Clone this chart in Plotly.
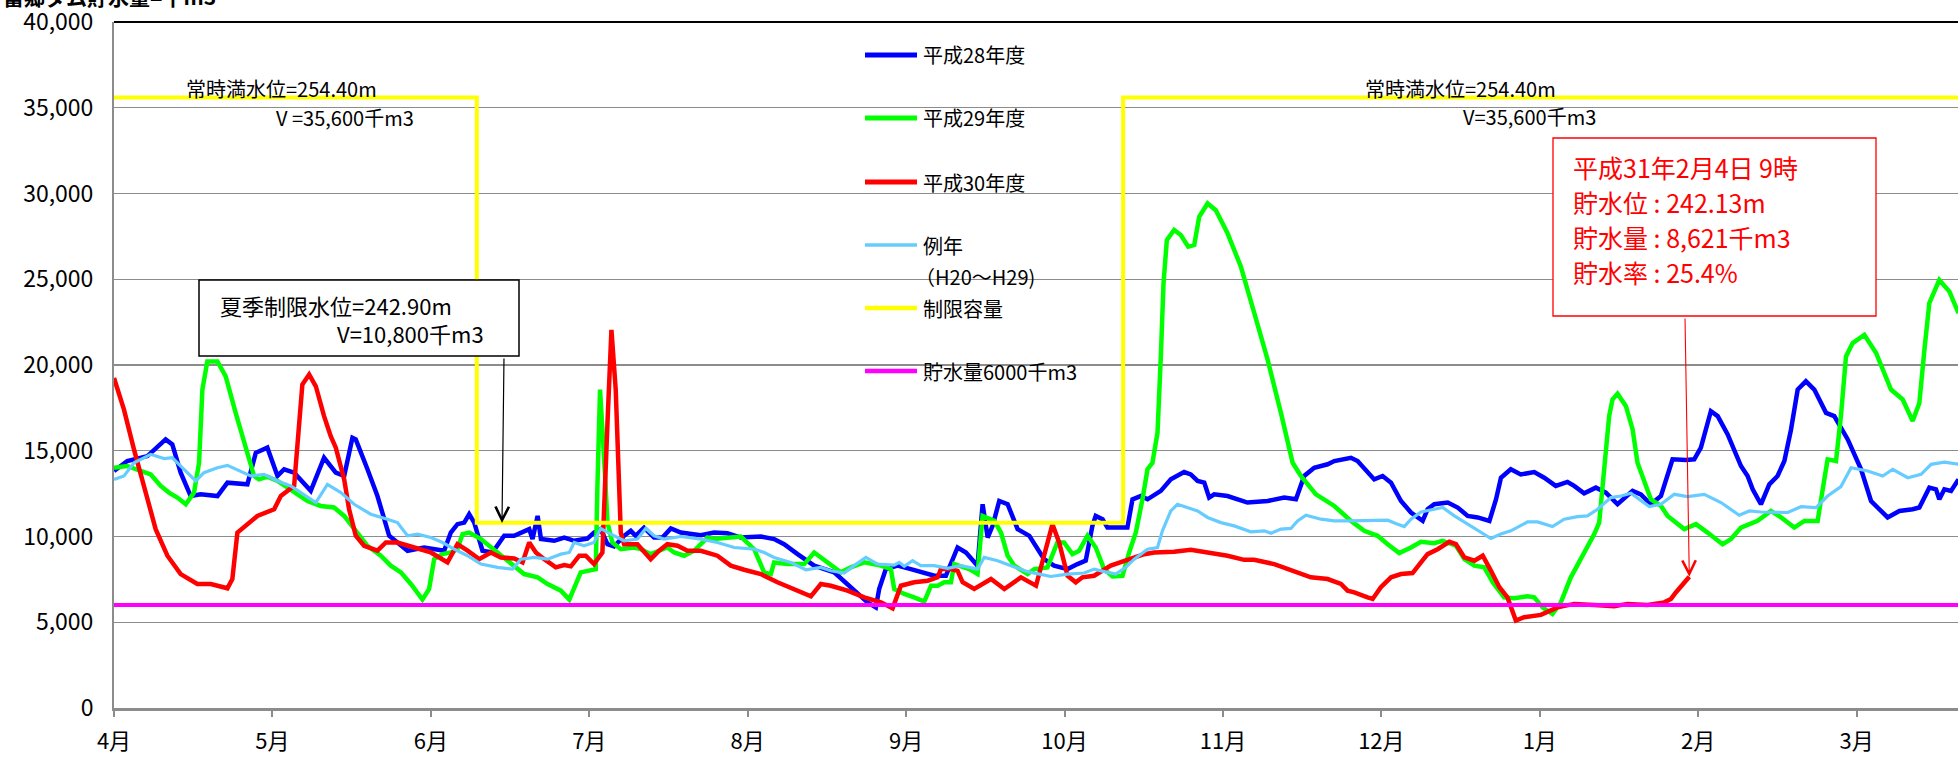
import plotly.graph_objects as go

# ---------------- data (x = months from 1 April, value = 千m3) ----------------
months = ["4月", "5月", "6月", "7月", "8月", "9月", "10月", "11月", "12月", "1月", "2月", "3月"]

h28_x = [0.000, 0.084, 0.211, 0.274, 0.326, 0.368, 0.421, 0.484, 0.547, 0.653, 0.716, 0.842, 0.895, 0.968,
         1.032, 1.074, 1.137, 1.242, 1.326, 1.400, 1.453, 1.505, 1.526, 1.600, 1.663, 1.737, 1.789, 1.853,
         1.958, 2.084, 2.126, 2.168, 2.211, 2.242, 2.274, 2.326, 2.389, 2.463, 2.526, 2.621, 2.642, 2.674,
         2.695, 2.779, 2.842, 2.905, 2.988, 3.030, 3.072, 3.115, 3.157, 3.220, 3.262, 3.293, 3.346, 3.409,
         3.462, 3.515, 3.578, 3.704, 3.788, 3.872, 3.957, 4.083, 4.167, 4.230, 4.315, 4.420, 4.546, 4.651,
         4.757, 4.809, 4.830, 4.872, 4.946, 5.030, 5.093, 5.178, 5.251, 5.325, 5.378, 5.451, 5.483, 5.515,
         5.546, 5.588, 5.641, 5.704, 5.778, 5.871, 5.934, 6.019, 6.082, 6.134, 6.176, 6.197, 6.240, 6.271,
         6.397, 6.429, 6.482, 6.524, 6.608, 6.671, 6.755, 6.797, 6.840, 6.882, 6.913, 6.945, 7.029, 7.155,
         7.282, 7.387, 7.461, 7.513, 7.576, 7.661, 7.703, 7.766, 7.808, 7.850, 7.913, 7.955, 8.008, 8.061,
         8.124, 8.187, 8.261, 8.292, 8.334, 8.419, 8.482, 8.545, 8.608, 8.682, 8.724, 8.755, 8.817, 8.880,
         8.965, 9.028, 9.101, 9.175, 9.217, 9.280, 9.354, 9.417, 9.491, 9.586, 9.638, 9.701, 9.765, 9.838,
         9.923, 9.975, 10.017, 10.080, 10.123, 10.186, 10.270, 10.312, 10.344, 10.396, 10.449, 10.501,
         10.544, 10.586, 10.628, 10.680, 10.733, 10.807, 10.859, 10.944, 11.028, 11.091, 11.196, 11.270,
         11.354, 11.396, 11.459, 11.501, 11.522, 11.554, 11.596, 11.643]
h28_v = [13820, 14400, 14690, 15270, 15660, 15370, 13720, 12360, 12460, 12360, 13140, 13040, 14880, 15180,
         13530, 13920, 13720, 12660, 14590, 13720, 13530, 15760, 15660, 13920, 12360, 10040, 9650, 9170,
         9360, 9170, 10230, 10720, 10810, 11300, 10810, 9170, 9070, 10040, 10040, 10430, 9850, 11200,
         9850, 9750, 9940, 9750, 9880, 10230, 10430, 9550, 9420, 10040, 10330, 10040, 10520, 9940,
         9940, 10470, 10230, 10080, 10230, 10190, 9940, 10000, 9850, 9550, 8970, 8300, 7910, 7040,
         6160, 5870, 6940, 8100, 8300, 8100, 7910, 7710, 7710, 9360, 9070, 8300, 11880, 9940,
         10620, 12070, 11880, 10430, 10040, 8680, 8300, 8100, 8390, 8590, 10620, 11200, 11010, 10520,
         10520, 12170, 12360, 12170, 12660, 13330, 13760, 13620, 13240, 13140, 12270, 12460, 12360, 11980,
         12070, 12270, 12170, 13530, 14010, 14210, 14400, 14500, 14590, 14400, 13720, 13330, 13530, 13140,
         12070, 11400, 10910, 11590, 11880, 11980, 11690, 11200, 11110, 10910, 12170, 13430, 13920, 13620,
         13760, 13430, 12950, 13180, 12950, 12520, 12850, 12560, 11880, 12660, 12460, 11880, 12360, 14500,
         14460, 14500, 15180, 17310, 17020, 15950, 14110, 13530, 12750, 11880, 13040, 13530,
         14400, 16240, 18570, 19050, 18570, 17210, 17020, 15660, 13920, 12070, 11110, 11490,
         11590, 11690, 12850, 12750, 12170, 12750, 12660, 13330]

h29_x = [0.000, 0.084, 0.168, 0.232, 0.295, 0.347, 0.400, 0.453, 0.505, 0.537, 0.558, 0.589, 0.653, 0.705,
         0.768, 0.832, 0.884, 0.916, 0.968, 1.032, 1.116, 1.221, 1.305, 1.389, 1.453, 1.516, 1.600, 1.684,
         1.747, 1.811, 1.874, 1.947, 1.989, 2.021, 2.074, 2.126, 2.168, 2.200, 2.242, 2.316, 2.421, 2.526,
         2.589, 2.674, 2.737, 2.821, 2.874, 2.946, 3.009, 3.041, 3.051, 3.068, 3.093, 3.115, 3.146, 3.199,
         3.283, 3.325, 3.388, 3.451, 3.493, 3.536, 3.599, 3.662, 3.746, 3.788, 3.893, 3.957, 4.041, 4.104,
         4.146, 4.167, 4.251, 4.357, 4.420, 4.504, 4.588, 4.651, 4.736, 4.841, 4.904, 4.925, 4.988, 5.051,
         5.115, 5.157, 5.199, 5.241, 5.283, 5.304, 5.399, 5.451, 5.472, 5.483, 5.557, 5.599, 5.641, 5.683,
         5.767, 5.809, 5.892, 5.955, 5.997, 6.050, 6.092, 6.145, 6.197, 6.250, 6.303, 6.366, 6.408, 6.450,
         6.492, 6.524, 6.555, 6.587, 6.608, 6.625, 6.646, 6.692, 6.734, 6.781, 6.819, 6.850, 6.903, 6.955,
         7.029, 7.113, 7.198, 7.282, 7.366, 7.440, 7.492, 7.587, 7.703, 7.808, 7.892, 7.976, 8.040, 8.113,
         8.187, 8.250, 8.334, 8.387, 8.471, 8.524, 8.587, 8.650, 8.703, 8.775, 8.838, 8.923, 8.965, 9.017,
         9.080, 9.133, 9.196, 9.259, 9.344, 9.375, 9.407, 9.438, 9.459, 9.491, 9.544, 9.586, 9.617, 9.659,
         9.701, 9.765, 9.807, 9.912, 9.986, 10.059, 10.154, 10.207, 10.270, 10.375, 10.459, 10.523, 10.607,
         10.670, 10.754, 10.786, 10.817, 10.870, 10.901, 10.933, 10.975, 11.049, 11.123, 11.217, 11.291,
         11.354, 11.396, 11.428, 11.459, 11.522, 11.586, 11.643]
h29_v = [14010, 14110, 13820, 13620, 12950, 12560, 12270, 11880, 12560, 14300, 18570, 20210, 20210, 19340,
         17210, 15080, 13530, 13330, 13490, 13240, 12750, 12070, 11780, 11690, 11200, 10430, 9460, 8880,
         8300, 7910, 7230, 6320, 6940, 8680, 8970, 9070, 9260, 10140, 10230, 9850, 9070, 8300,
         7810, 7620, 7230, 6840, 6320, 7910, 8000, 8100, 12750, 18570, 14690, 10810, 9650, 9260,
         9360, 9260, 8970, 9170, 9360, 9070, 8880, 9170, 9940, 9850, 9940, 10000, 9260, 7910,
         7810, 8490, 8390, 8390, 9070, 8490, 7910, 8200, 8490, 8300, 8100, 6940, 6650, 6450,
         6200, 7130, 7130, 7330, 7330, 8390, 8100, 7810, 9850, 11200, 10910, 10230, 8880, 8300,
         7810, 8100, 8200, 9650, 9650, 8970, 9170, 10040, 9360, 8100, 7670, 7710, 9070, 10230,
         12170, 13920, 14300, 16050, 20500, 24770, 27290, 27870, 27580, 26900, 27000, 28640, 29420, 29030,
         27680, 25740, 23020, 20310, 17210, 14300, 13530, 12460, 11780, 10910, 10330, 10040, 9550, 9030,
         9360, 9690, 9610, 9750, 9460, 8680, 8300, 8200, 7330, 6450, 6400, 6510, 6450, 5870,
         5490, 6160, 7620, 8680, 10140, 10810, 13720, 17020, 17990, 18330, 17600, 16240, 14300, 13140,
         12170, 11780, 11200, 10430, 10720, 10230, 9550, 9850, 10520, 10910, 11490, 11110, 10520,
         10910, 10910, 12750, 14500, 14400, 17020, 20500, 21280, 21760, 20700, 18570, 17990,
         16730, 17790, 20890, 23610, 24960, 24280, 23020]

h30_x = [0.000, 0.063, 0.126, 0.189, 0.263, 0.337, 0.421, 0.526, 0.611, 0.716, 0.747, 0.779, 0.832, 0.905,
         1.011, 1.053, 1.137, 1.168, 1.189, 1.232, 1.274, 1.326, 1.368, 1.400, 1.453, 1.484, 1.526, 1.579,
         1.663, 1.716, 1.789, 1.895, 2.000, 2.105, 2.147, 2.168, 2.232, 2.305, 2.379, 2.442, 2.526, 2.579,
         2.621, 2.663, 2.716, 2.789, 2.842, 2.884, 2.937, 2.978, 3.030, 3.083, 3.115, 3.140, 3.167, 3.199,
         3.220, 3.304, 3.388, 3.441, 3.493, 3.557, 3.620, 3.704, 3.809, 3.893, 3.978, 4.083, 4.188, 4.293,
         4.399, 4.462, 4.525, 4.630, 4.736, 4.841, 4.915, 4.967, 5.051, 5.136, 5.199, 5.220, 5.283, 5.325,
         5.357, 5.430, 5.536, 5.620, 5.725, 5.820, 5.892, 5.924, 5.966, 6.019, 6.071, 6.113, 6.187, 6.292,
         6.397, 6.503, 6.566, 6.692, 6.797, 6.903, 7.029, 7.134, 7.197, 7.324, 7.450, 7.555, 7.661, 7.745,
         7.787, 7.829, 7.913, 7.945, 7.997, 8.061, 8.124, 8.197, 8.250, 8.292, 8.355, 8.429, 8.471, 8.524,
         8.587, 8.640, 8.692, 8.745, 8.796, 8.849, 8.901, 9.007, 9.112, 9.217, 9.344, 9.470, 9.554, 9.680,
         9.786, 9.828, 9.859, 9.944]
h30_v = [19240, 17400, 15080, 12950, 10430, 8880, 7810, 7230, 7230, 6980, 7520, 10230, 10620, 11200,
         11590, 12360, 12950, 16630, 18860, 19440, 18760, 17020, 15850, 15180, 13330, 11590, 10040, 9460,
         9170, 9650, 9650, 9360, 9070, 8490, 9260, 9550, 9170, 8680, 9070, 8780, 8720, 8490,
         9650, 9070, 8680, 8200, 8330, 8260, 8880, 8880, 8390, 9070, 16630, 22050, 18570, 10230,
         9550, 9550, 8680, 9170, 9550, 9460, 9170, 9170, 8880, 8300, 8060, 7810, 7330, 6940,
         6510, 7230, 7130, 6840, 6450, 6160, 5810, 7130, 7330, 7420, 7620, 8100, 8100, 8000,
         7330, 6940, 7520, 6940, 7620, 7130, 9460, 10720, 9650, 7710, 7330, 7620, 7710, 8300,
         8640, 8970, 9070, 9110, 9230, 9070, 8880, 8640, 8640, 8390, 8000, 7620, 7520, 7230,
         6840, 6740, 6450, 6360, 7040, 7620, 7810, 7870, 8490, 8970, 9260, 9690, 9550, 8780,
         8590, 8880, 8000, 7040, 6450, 5100, 5290, 5430, 5870, 6070, 6010, 5930, 6070, 6010,
         6160, 6360, 6740, 7650]

normal_x = [0.000, 0.063, 0.126, 0.232, 0.316, 0.368, 0.442, 0.516, 0.568, 0.653, 0.716, 0.800, 0.863, 0.947,
            1.032, 1.116, 1.200, 1.274, 1.347, 1.432, 1.516, 1.621, 1.726, 1.789, 1.853, 1.916, 2.000, 2.074,
            2.147, 2.232, 2.316, 2.421, 2.516, 2.568, 2.653, 2.737, 2.821, 2.874, 2.905, 2.967, 3.030, 3.072,
            3.136, 3.220, 3.304, 3.357, 3.409, 3.472, 3.578, 3.704, 3.809, 3.915, 4.041, 4.104, 4.167, 4.272,
            4.367, 4.462, 4.525, 4.609, 4.672, 4.746, 4.820, 4.925, 4.957, 4.988, 5.041, 5.093, 5.178, 5.262,
            5.346, 5.451, 5.493, 5.578, 5.662, 5.767, 5.913, 6.019, 6.124, 6.187, 6.271, 6.324, 6.387, 6.440,
            6.524, 6.587, 6.618, 6.671, 6.713, 6.776, 6.840, 6.903, 6.987, 7.071, 7.176, 7.261, 7.303, 7.366,
            7.429, 7.471, 7.524, 7.619, 7.703, 7.808, 7.934, 8.040, 8.103, 8.145, 8.187, 8.250, 8.334, 8.387,
            8.461, 8.545, 8.629, 8.692, 8.754, 8.817, 8.923, 8.986, 9.080, 9.154, 9.238, 9.301, 9.365, 9.449,
            9.512, 9.575, 9.691, 9.765, 9.849, 9.933, 10.038, 10.144, 10.259, 10.323, 10.396, 10.501, 10.565,
            10.649, 10.744, 10.817, 10.901, 10.965, 11.070, 11.165, 11.228, 11.323, 11.407, 11.470, 11.554,
            11.643]
normal_v = [13330, 13530, 14300, 14790, 14540, 14590, 13920, 13240, 13720, 14010, 14150, 13820, 13530, 13620,
            13240, 12950, 12460, 11980, 13040, 12560, 11880, 11300, 11010, 10810, 10040, 10140, 9940, 9650,
            9260, 8880, 8390, 8200, 8100, 8680, 8780, 8680, 8970, 9070, 9650, 9460, 9650, 10470,
            10140, 9750, 9850, 10470, 10040, 9850, 10000, 9850, 9650, 9360, 9260, 9070, 8780, 8490,
            8060, 8200, 8000, 7870, 8300, 8780, 8390, 8330, 8490, 8260, 8590, 8300, 8300, 8140,
            8300, 8100, 8780, 8590, 8300, 7950, 7670, 7810, 7870, 8100, 7910, 7810, 8200, 8680,
            9260, 9360, 10330, 11490, 11880, 11690, 11490, 11110, 10810, 10620, 10270, 10330, 10190, 10430,
            10470, 10910, 11240, 11010, 10910, 10910, 10950, 10950, 10720, 10580, 11010, 11430, 11590, 11690,
            11200, 10720, 10230, 9880, 10140, 10330, 10850, 10850, 10580, 11010, 11160, 11200, 11590, 12270,
            12360, 12520, 11740, 11880, 12460, 12330, 12460, 11980, 11240, 11490, 11430, 11430, 11400,
            11740, 11690, 12360, 12910, 14010, 13820, 13530, 13920, 13430, 13620, 14210, 14340,
            14210]

limit_breaks = [2.29, 6.37]          # months where the restriction capacity switches
limit_normal = 35600                 # 常時満水位 V
limit_summer = 10800                 # 夏季制限水位 V
alert_level = 6000                   # 貯水量6000千m3
x_end = 11.64

limit_x = [0, limit_breaks[0], limit_breaks[0], limit_breaks[1], limit_breaks[1], x_end]
limit_v = [limit_normal, limit_normal, limit_summer, limit_summer, limit_normal, limit_normal]

# ---------------- layout helpers (pixel -> data / paper) ----------------
W, H = 1958, 758
L, R, T, B = 114, 1958, 22, 708
FONT = "Noto Sans CJK JP"


def mx(px):
    return (px - L) / (R - L) * x_end


def vy(py):
    return (B - py) / (B - T) * 40000


def ppx(px):
    return (px - L) / (R - L)


def ppy(py):
    return (B - py) / (B - T)


fig = go.Figure()
series = [
    ("平成28年度", h28_x, h28_v, "#0000ff", 4.5),
    ("平成29年度", h29_x, h29_v, "#00ff00", 4.5),
    ("平成30年度", h30_x, h30_v, "#ff0000", 4.5),
    ("例年", normal_x, normal_v, "#66ccff", 3.2),
    ("制限容量", limit_x, limit_v, "#ffff00", 4),
    ("貯水量6000千m3", [0, x_end], [alert_level, alert_level], "#ff00ff", 4),
]
for name, xs, vs, col, w in series:
    fig.add_trace(go.Scatter(x=xs, y=vs, mode="lines", name=name,
                             line=dict(color=col, width=w), showlegend=False,
                             hoverinfo="skip"))

shapes = []
annotations = []

# top border of plot area
shapes.append(dict(type="line", xref="paper", yref="paper", x0=0, x1=1, y0=1, y1=1,
                   line=dict(color="#000000", width=2)))

# manual legend
leg_rows = [55, 118, 182, 245, 308, 371]
leg_labels = ["平成28年度", "平成29年度", "平成30年度", "例年", "制限容量", "貯水量6000千m3"]
for (name, xs, vs, col, w), row, lab in zip(series, leg_rows, leg_labels):
    shapes.append(dict(type="line", xref="paper", yref="paper", x0=ppx(865), x1=ppx(917),
                       y0=ppy(row), y1=ppy(row), line=dict(color=col, width=w + 0.5)))
    annotations.append(dict(text=lab, xref="paper", yref="paper", x=ppx(921), y=ppy(row),
                            xanchor="left", yanchor="middle", showarrow=False,
                            font=dict(family=FONT, size=20, color="#000000")))
annotations.append(dict(text="（H20～H29)", xref="paper", yref="paper", x=ppx(913), y=ppy(276),
                        xanchor="left", yanchor="middle", showarrow=False,
                        font=dict(family=FONT, size=20, color="#000000")))

# 常時満水位 labels
for cx1, cy1, cx2, cy2, vtxt in [(281, 88, 345, 117, "V =35,600千m3"), (1460, 88, 1529, 116, "V=35,600千m3")]:
    annotations.append(dict(text="常時満水位=254.40m", xref="x", yref="y", x=mx(cx1), y=vy(cy1),
                            showarrow=False, font=dict(family=FONT, size=20, color="#000000")))
    annotations.append(dict(text=vtxt, xref="x", yref="y", x=mx(cx2), y=vy(cy2),
                            showarrow=False, font=dict(family=FONT, size=20, color="#000000")))

# summer restriction box
shapes.append(dict(type="rect", xref="x", yref="y", x0=mx(199), x1=mx(519), y0=vy(356), y1=vy(280),
                   fillcolor="#ffffff", line=dict(color="#000000", width=1.5), layer="above"))
annotations.append(dict(text="夏季制限水位=242.90m", xref="x", yref="y", x=mx(218), y=vy(305),
                        xanchor="left", showarrow=False, font=dict(family=FONT, size=22, color="#000000")))
annotations.append(dict(text="V=10,800千m3", xref="x", yref="y", x=mx(335), y=vy(333),
                        xanchor="left", showarrow=False, font=dict(family=FONT, size=22, color="#000000")))
annotations.append(dict(text="", xref="x", yref="y", axref="x", ayref="y",
                        x=mx(502), y=vy(523), ax=mx(504), ay=vy(357),
                        showarrow=True, arrowhead=5, arrowsize=2.2, arrowwidth=1.2,
                        arrowcolor="#000000", standoff=0))

# current status box
shapes.append(dict(type="rect", xref="x", yref="y", x0=mx(1553), x1=mx(1876), y0=vy(316), y1=vy(138),
                   fillcolor="#ffffff", line=dict(color="#ff0000", width=1.3), layer="above"))
status_lines = ["平成31年2月4日 9時", "貯水位 : 242.13m", "貯水量 : 8,621千m3", "貯水率 : 25.4%"]
for i, s in enumerate(status_lines):
    annotations.append(dict(text=s, xref="x", yref="y", x=mx(1571), y=vy(167 + 35 * i),
                            xanchor="left", showarrow=False,
                            font=dict(family=FONT, size=25, color="#ff0000")))
annotations.append(dict(text="", xref="x", yref="y", axref="x", ayref="y",
                        x=h30_x[-1], y=h30_v[-1], ax=mx(1685), ay=vy(317),
                        showarrow=True, arrowhead=5, arrowsize=2.4, arrowwidth=1.1,
                        arrowcolor="#ff0000", standoff=0))

# (partially clipped) chart title
annotations.append(dict(text="<b>富郷ダム貯水量=千m3</b>", xref="paper", yref="paper",
                        x=ppx(218), y=ppy(-4), xanchor="right", yanchor="middle", showarrow=False,
                        font=dict(family=FONT, size=21, color="#000000")))

fig.update_layout(
    width=W, height=H,
    margin=dict(l=L, r=W - R, t=T, b=H - B),
    paper_bgcolor="#ffffff", plot_bgcolor="#ffffff",
    font=dict(family=FONT, color="#000000"),
    shapes=shapes, annotations=annotations, showlegend=False,
    xaxis=dict(range=[0, x_end], tickvals=list(range(12)), ticktext=months,
               showgrid=False, zeroline=False, showline=True, linecolor="#8c8c8c", linewidth=2.5,
               ticks="outside", ticklen=6, tickwidth=2, tickcolor="#8c8c8c",
               tickfont=dict(family=FONT, size=22, color="#000000"), ticklabelstandoff=6),
    yaxis=dict(range=[0, 40000], dtick=5000, tickformat=",", showgrid=True,
               gridcolor="#8c8c8c", gridwidth=1.3, zeroline=False, showline=True,
               linecolor="#8c8c8c", linewidth=2, ticks="",
               tickfont=dict(family=FONT, size=23, color="#000000"), ticklabelstandoff=14),
)

fig.write_html("out.html", config={"displayModeBar": False, "staticPlot": True},
               post_script="document.body.style.margin='0px';document.body.style.overflow='hidden';")
